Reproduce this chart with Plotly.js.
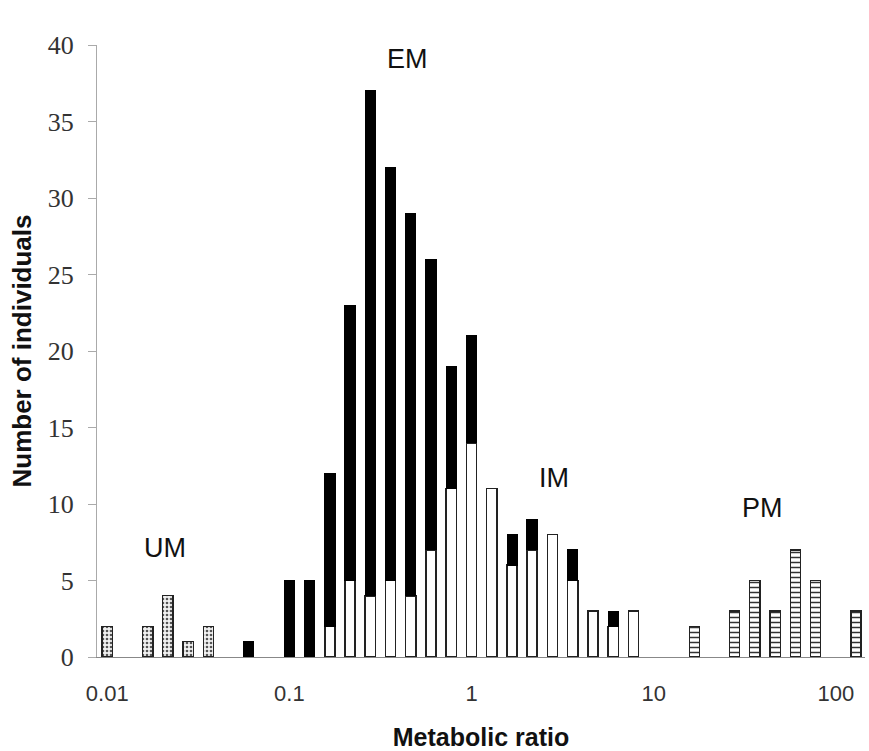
<!DOCTYPE html>
<html>
<head>
<meta charset="utf-8">
<script src="https://cdn.plot.ly/plotly-3.0.1.min.js"></script>
<style>html,body{margin:0;padding:0;background:#fff;}#chart{width:869px;height:751px;}</style>
</head>
<body>
<div id="chart"></div>
<script>
// Metabolic ratio bins (log-spaced)
const umX = [0.01, 0.0167, 0.0215, 0.0278, 0.0359];
const umY = [2, 2, 4, 1, 2];

const emX = [0.0599, 0.1, 0.129, 0.167, 0.215, 0.278, 0.359, 0.464, 0.599, 0.774, 1.0, 1.67, 2.15, 3.59, 5.99];
const emBlackY = [1, 5, 5, 10, 18, 33, 27, 25, 19, 8, 7, 2, 2, 2, 1];

const whiteX = [0.167, 0.215, 0.278, 0.359, 0.464, 0.599, 0.774, 1.0, 1.29, 1.67, 2.15, 2.78, 3.59, 4.64, 5.99, 7.74];
const whiteY = [2, 5, 4, 5, 4, 7, 11, 14, 11, 6, 7, 8, 5, 3, 2, 3];

const pmX = [16.7, 27.8, 35.9, 46.4, 59.9, 77.4, 129];
const pmY = [2, 3, 5, 3, 7, 5, 3];

const tickVals = [0.01, 0.1, 1, 10, 100];
const tickText = ['0.01', '0.1', '1', '10', '100'];
const yTicks = [0, 5, 10, 15, 20, 25, 30, 35, 40];

const W = 0.056; // bar width in log decades
const lo = Math.pow(10, -W / 2), hi = Math.pow(10, W / 2);
function widths(arr){ return arr.map(v => v * (hi - lo)); }
function offsets(arr){ return arr.map(v => v * (lo - 1)); }

const sans = 'Liberation Sans, Arial, sans-serif';

const traces = [
  {type:'bar', x: umX, y: umY, width: widths(umX), offset: offsets(umX), name:'UM',
   marker:{color:'#ffffff', line:{color:'#222', width:1.3},
           pattern:{shape:'.', fgcolor:'#555', bgcolor:'#f2f2f2', size:4, solidity:0.35}}},
  {type:'bar', x: whiteX, y: whiteY, width: widths(whiteX), offset: offsets(whiteX), name:'white',
   marker:{color:'#ffffff', line:{color:'#222', width:1.5}}},
  {type:'bar', x: emX, y: emBlackY, width: widths(emX), offset: offsets(emX), name:'EM',
   marker:{color:'#000000', line:{color:'#000', width:1}}},
  {type:'bar', x: pmX, y: pmY, width: widths(pmX), offset: offsets(pmX), name:'PM',
   marker:{color:'#ffffff', line:{color:'#222', width:1.3},
           pattern:{shape:'-', fgcolor:'#333', bgcolor:'#fff', size:5, solidity:0.3}}}
];

function label(text, x, y){
  return {text: text, xref: 'paper', yref: 'paper', x: x, y: y, xanchor: 'center', yanchor: 'middle',
          showarrow: false, font: {family: sans, size: 27, color: '#111'}};
}

const layout = {
  width: 869, height: 751,
  margin: {l: 97, r: 4, t: 45, b: 94},
  paper_bgcolor: '#ffffff', plot_bgcolor: '#ffffff',
  barmode: 'stack',
  showlegend: false,
  xaxis: {
    type: 'log', range: [-2.056, 2.16],
    tickvals: tickVals, ticktext: tickText,
    showgrid: false, zeroline: false,
    showline: true, linecolor: '#888', linewidth: 1,
    ticks: '', ticklen: 0, ticklabelstandoff: 17,
    tickfont: {family: sans, size: 22, color: '#333'},
    title: {text: '<b>Metabolic ratio</b>', font: {family: sans, size: 25, color: '#111'}, standoff: 30}
  },
  yaxis: {
    range: [0, 40], tickvals: yTicks,
    showgrid: false, zeroline: false,
    showline: true, linecolor: '#aaa', linewidth: 1,
    ticks: 'outside', ticklen: 8, tickcolor: '#aaa',
    ticklabelstandoff: 9,
    tickfont: {family: 'Liberation Serif, Times New Roman, serif', size: 26, color: '#333'},
    title: {text: '<b>Number of individuals</b>', font: {family: sans, size: 26, color: '#111'}, standoff: 8}
  },
  annotations: [
    label('EM', 0.404, 0.977),
    label('UM', 0.0885, 0.178),
    label('IM', 0.595, 0.292),
    label('PM', 0.866, 0.243)
  ]
};

Plotly.newPlot('chart', traces, layout, {displayModeBar: false, staticPlot: true});
</script>
</body>
</html>
